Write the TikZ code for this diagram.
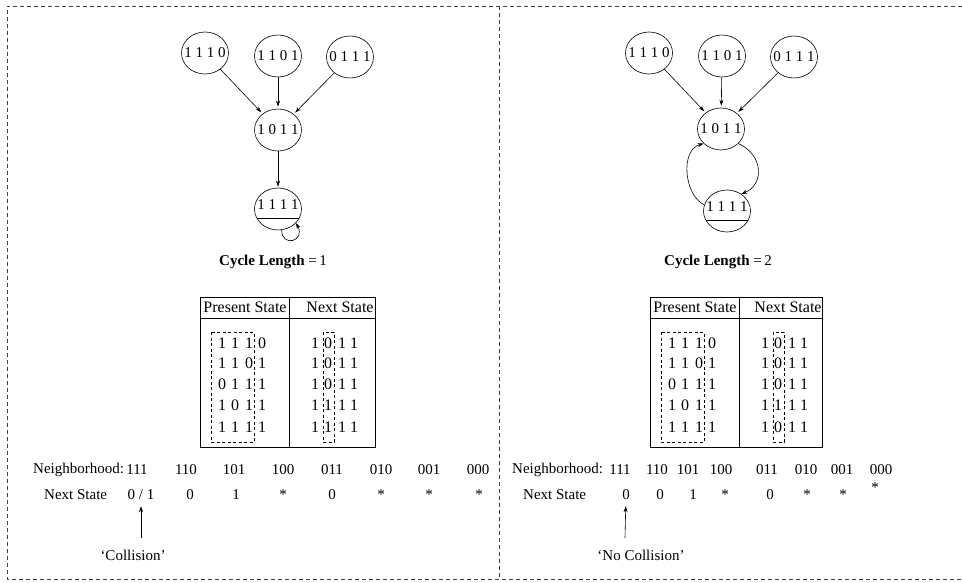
\documentclass[tikz,border=0pt]{standalone}
\usepackage{fontspec}
\setmainfont{Liberation Serif}
\usetikzlibrary{shapes.geometric,arrows.meta}
\newcommand{\zwbox}[1]{\makebox[0pt]{#1}}
\newcommand{\ulbits}{\underline{\rule[-7pt]{0pt}{7pt}1 1 1 1}}
\begin{document}
\begin{tikzpicture}[x=1pt,y=-1pt,
  state/.style={draw,ellipse,minimum width=47pt,minimum height=42pt,inner sep=0pt,
    font=\fontsize{15}{15}\selectfont,line width=0.6pt},
  arr/.style={-{Stealth[length=6pt,width=4pt]},line width=0.6pt},
  border/.style={dash pattern=on 4pt off 3pt,line width=0.8pt,black!75},
  box/.style={dash pattern=on 3pt off 2.5pt,line width=0.6pt},
  dig/.style={font=\fontsize{16}{16}\selectfont,inner sep=0pt,anchor=center},
  hdr/.style={font=\fontsize{16}{16}\selectfont,inner sep=0pt},
  lbl/.style={font=\fontsize{15}{15}\selectfont,inner sep=0pt},
  tab/.style={line width=0.7pt},
]
\useasboundingbox (0,0) rectangle (962,583);
% frame
\draw[border] (962,6) -- (7,6) -- (7,579) -- (962,579);
\draw[border] (499,6) -- (499,579);

% ---------- left graph ----------
\node[state] (a1) at (205,53) {\zwbox{1 1 1 0}};
\node[state] (a2) at (278,56) {\zwbox{1 1 0 1}};
\node[state] (a3) at (350,57) {\zwbox{0 1 1 1}};
\node[state] (a4) at (278,130) {\zwbox{1 0 1 1}};
\node[state] (a5) at (278,209) {\zwbox{\ulbits}};
\draw[arr,shorten >=2pt] (a1) -- (a4);
\draw[arr,shorten >=2pt] (a2) -- (a4);
\draw[arr,shorten >=2pt] (a3) -- (a4);
\draw[arr,shorten >=1pt] (a4) -- (a5);
\draw[arr] (a5.-80) .. controls +(0,18) and +(10,18) .. (a5.-38);
\node[lbl] (c1) at (273,262) {\textbf{Cycle Length} =\,1};

% ---------- right graph ----------
\node[state] (b1) at (649,53) {\zwbox{1 1 1 0}};
\node[state] (b2) at (722,56) {\zwbox{1 1 0 1}};
\node[state] (b3) at (794,57) {\zwbox{0 1 1 1}};
\node[state] (b4) at (721,129) {\zwbox{1 0 1 1}};
\node[state] (b5) at (727,211) {\zwbox{\ulbits}};
\draw[arr,shorten >=2pt] (b1) -- (b4);
\draw[arr,shorten >=2pt] (b2) -- (b4);
\draw[arr,shorten >=2pt] (b3) -- (b4);
\draw[arr] (b4.-40) .. controls (764,155) and (764,185) .. (b5.50);
\draw[arr] (b5.165) .. controls (684,195) and (680,150) .. (b4.-140);
\node[lbl] (c2) at (718,262) {\textbf{Cycle Length} =\,2};

% ---------- left table ----------
\draw[tab] (200,297) rectangle (375,447);
\draw[tab] (200,318) -- (375,318);
\draw[tab] (289,297) -- (289,447);
\node[hdr] (lh1) at (245,307) {Present State};
\node[hdr] (lh2) at (340,307) {Next State};
\foreach \y/\a/\b/\c/\d/\e/\f/\g/\h in
  {343/1/1/1/0/1/0/1/1, 363/1/1/0/1/1/0/1/1, 384/0/1/1/1/1/0/1/1,
   405/1/0/1/1/1/1/1/1, 427/1/1/1/1/1/1/1/1}{
  \foreach \x/\v [count=\k] in {222/\a,235/\b,249/\c,262/\d,315/\e,328/\f,342/\g,354/\h}{
    \node[dig] (L\y-\k) at (\x,\y) {\v};
  }
}
\draw[box] (211,332) rectangle (254,442);
\draw[box] (323,332) rectangle (334,442);

% ---------- right table ----------
\draw[tab] (650,297) rectangle (822,447);
\draw[tab] (650,318) -- (822,318);
\draw[tab] (739,297) -- (739,447);
\node[hdr] (rh1) at (695,307) {Present State};
\node[hdr] (rh2) at (788,307) {Next State};
\foreach \y/\a/\b/\c/\d/\e/\f/\g/\h in
  {343/1/1/1/0/1/0/1/1, 363/1/1/0/1/1/0/1/1, 384/0/1/1/1/1/0/1/1,
   405/1/0/1/1/1/1/1/1, 427/1/1/1/1/1/0/1/1}{
  \foreach \x/\v [count=\k] in {672/\a,685/\b,699/\c,712/\d,765/\e,778/\f,792/\g,804/\h}{
    \node[dig] (R\y-\k) at (\x,\y) {\v};
  }
}
\draw[box] (661,332) rectangle (704,442);
\draw[box] (773,332) rectangle (784,442);

% ---------- left rule row ----------
\node[lbl,anchor=west] (ln) at (33,470) {Neighborhood:};
\foreach \x/\t [count=\k] in {137/111,186/110,234/101,283/100,332/011,381/010,429/001,478/000}{
  \node[lbl] (lnb\k) at (\x,470) {\t};
}
\node[lbl,anchor=west] (ls) at (44,495) {Next State};
\node[lbl] (lv1) at (141,495) {0 / 1};
\foreach \x/\t [count=\k] in {190/0,236/1,283/*,332/0,381/*,429/*,479/*}{
  \node[lbl] (lv\k x) at (\x,495) {\t};
}
\coordinate (lt) at (141,538);
\draw[arr,shorten >=6pt] (lt) -- (lv1);
\node[lbl] (lcol) at (133,555) {‘Collision’};

% ---------- right rule row ----------
\node[lbl,anchor=west] (rn) at (512,470) {Neighborhood:};
\foreach \x/\t [count=\k] in {620/111,657/110,688/101,721/100,767/011,806/010,842/001,881/000}{
  \node[lbl] (rnb\k) at (\x,470) {\t};
}
\node[lbl,anchor=west] (rs) at (523,495) {Next State};
\node[lbl] (rv1) at (626,495) {0};
\foreach \x/\y/\t [count=\k] in {660/495/0,693/495/1,725/495/*,770/495/0,807/495/*,843/495/*,875/488/*}{
  \node[lbl] (rv\k x) at (\x,\y) {\t};
}
\coordinate (rt) at (625,538);
\draw[arr,shorten >=6pt] (rt) -- (rv1);
\node[lbl] (rcol) at (641,555) {‘No Collision’};
\end{tikzpicture}
\end{document}
